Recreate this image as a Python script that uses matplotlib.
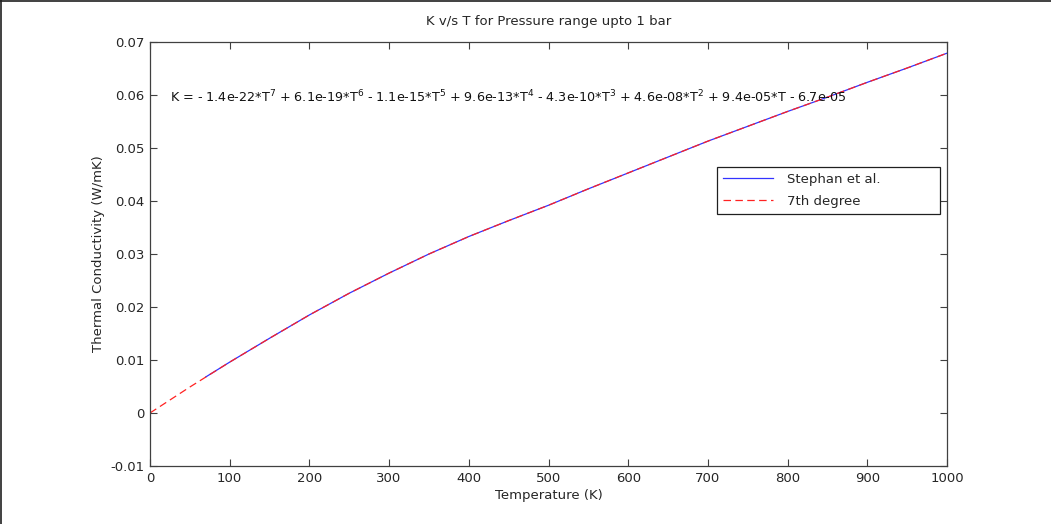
import numpy as np
import matplotlib.pyplot as plt
from matplotlib.lines import Line2D


## Data (thermal conductivity vs temperature, p <= 1 bar)
T_stephan = [70, 100, 150, 200, 250, 300, 350, 400, 450, 500, 550,
             600, 650, 700, 750, 800, 850, 900, 950, 1000]
K_stephan = [0.0068, 0.0096, 0.0141, 0.0185, 0.0226, 0.0264, 0.0300,
             0.0333, 0.0363, 0.0392, 0.0423, 0.0453, 0.0483, 0.0513,
             0.0541, 0.0569, 0.0596, 0.0624, 0.0651, 0.0679]

T_fit = [0, 50, 100, 150, 200, 250, 300, 350, 400, 450, 500, 550,
         600, 650, 700, 750, 800, 850, 900, 950, 1000]
K_fit = [0.0000, 0.0049, 0.0096, 0.0141, 0.0185, 0.0226, 0.0264, 0.0300,
         0.0333, 0.0363, 0.0392, 0.0423, 0.0453, 0.0483, 0.0513, 0.0541,
         0.0569, 0.0596, 0.0624, 0.0651, 0.0679]

fit_label = (r'K = - 1.4e-22*T$^{7}$ + 6.1e-19*T$^{6}$ - 1.1e-15*T$^{5}$'
             r' + 9.6e-13*T$^{4}$ - 4.3e-10*T$^{3}$ + 4.6e-08*T$^{2}$'
             r' + 9.4e-05*T - 6.7e-05')

x_ticks = np.arange(0, 1001, 100)
y_ticks = [-0.01, 0, 0.01, 0.02, 0.03, 0.04, 0.05, 0.06, 0.07]
y_ticklabels = ['-0.01', '0', '0.01', '0.02', '0.03', '0.04', '0.05', '0.06', '0.07']


## Plotting
plt.rcParams['font.family'] = 'DejaVu Sans'
plt.rcParams['mathtext.fontset'] = 'dejavusans'

fig = plt.figure(figsize=(10.51, 5.24), dpi=100)
ax = fig.add_axes([0.1427, 0.1107, 0.7584, 0.8091])

ax.plot(T_stephan, K_stephan, color='#3333ff', lw=0.9, label='Stephan et al.')
ax.plot(T_fit, K_fit, color='#ff2222', lw=0.9, ls=(0, (6, 3.5)), label='7th degree')

ax.set_xlim(0, 1000)
ax.set_ylim(-0.01, 0.07)
ax.set_xticks(x_ticks)
ax.set_yticks(y_ticks)
ax.set_yticklabels(y_ticklabels)
ax.tick_params(direction='in', length=5, width=0.8, top=True, right=True,
               labelsize=9.5, labelcolor='#262626', color='#404040', pad=4)
for spine in ax.spines.values():
    spine.set_color('#404040')
    spine.set_linewidth(0.9)

ax.set_title('K v/s T for Pressure range upto 1 bar', fontsize=9.5,
             color='#262626', pad=12)
ax.set_xlabel('Temperature (K)', fontsize=9.5, color='#262626', labelpad=3)
ax.set_ylabel('Thermal Conductivity (W/mK)', fontsize=9.5, color='#262626',
              labelpad=4)

ax.text(25, 0.0597, fit_label, fontsize=9.2, color='#111111', va='center')

leg = ax.legend(loc='upper left', bbox_to_anchor=(0.711, 0.592, 0.28, 0.113),
                mode='expand', fontsize=9.5, handlelength=3.8,
                handletextpad=1.1, labelspacing=0.68, borderpad=0.45,
                borderaxespad=0, fancybox=False, framealpha=1)
leg.get_frame().set_edgecolor('#202020')
leg.get_frame().set_linewidth(0.9)
for t in leg.get_texts():
    t.set_color('#262626')

# thin frame along the top and left edges of the figure
fig.add_artist(Line2D([0.0005, 0.0005], [0, 1], color='#202020', lw=1.2,
                      transform=fig.transFigure))
fig.add_artist(Line2D([0, 1], [0.999, 0.999], color='#202020', lw=1.2,
                      transform=fig.transFigure))

fig.savefig('out.png', dpi=100)
